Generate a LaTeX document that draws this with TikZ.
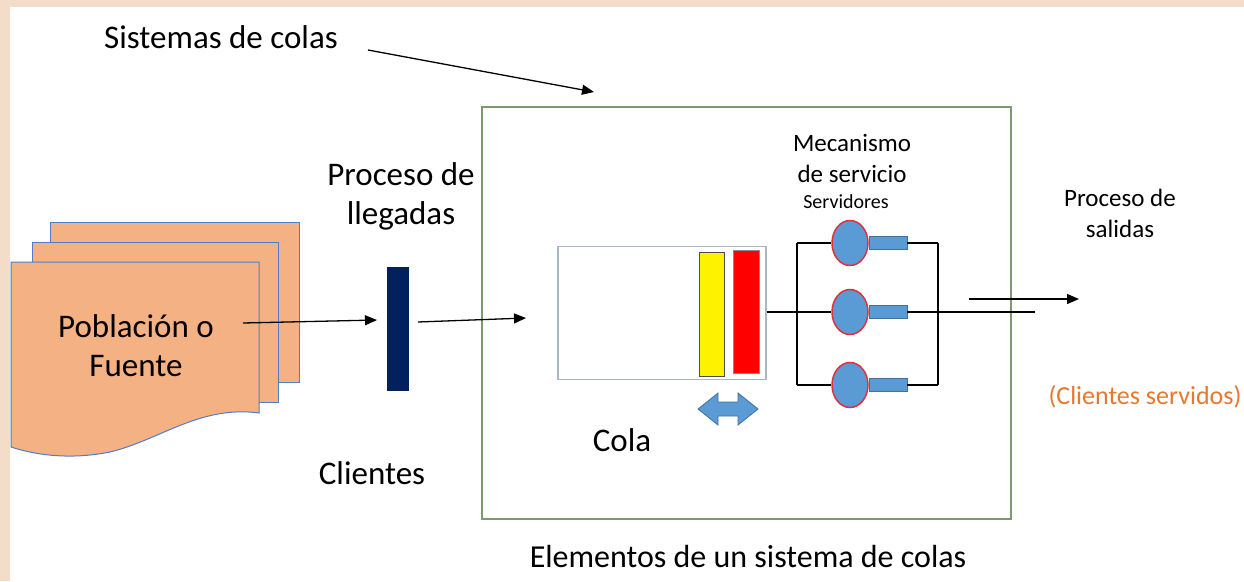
\documentclass[tikz,border=0pt]{standalone}
\usepackage{fontspec}
\setmainfont{Carlito}
\usetikzlibrary{arrows.meta,shapes.geometric}
\definecolor{peach}{HTML}{F4B183}
\definecolor{docline}{HTML}{4F7EC8}
\definecolor{bgband}{HTML}{F3DCC8}
\definecolor{navy}{HTML}{002060}
\definecolor{boxgreen}{HTML}{7C9A6C}
\definecolor{qgrey}{HTML}{A9B8C6}
\definecolor{srvblue}{HTML}{5B9BD5}
\definecolor{srvedge}{HTML}{41719C}
\definecolor{srvred}{HTML}{E0303A}
\definecolor{orangetxt}{HTML}{E8782E}
\begin{document}
\begin{tikzpicture}[x=1pt,y=-1pt,
  arr/.style={draw=black,line width=1.3pt,-{Triangle[length=12pt,width=10pt]}},
  wire/.style={draw=black,line width=1.2pt},
  big/.style={font=\fontsize{33}{39}\selectfont,align=center,inner sep=0pt},
  mid/.style={font=\fontsize{25}{31}\selectfont,align=center,inner sep=0pt},
  doc/.style={draw=docline,fill=peach,line width=1pt},
  srv/.style={ellipse,draw=srvred,fill=srvblue,line width=1.5pt,minimum width=36pt,minimum height=45pt,inner sep=0pt},
  shaft/.style={rectangle,draw=srvedge,fill=srvblue,line width=0.8pt,minimum width=38pt,minimum height=13pt,inner sep=0pt},
  bar/.style={rectangle,line width=1pt,inner sep=0pt}
]
\useasboundingbox (0,0) rectangle (1244,581);
\fill[white] (0,0) rectangle (1244,581);
\fill[bgband] (0,0) rectangle (1244,7);
\fill[bgband] (0,0) rectangle (10,581);

% documents (population)
\draw[doc] (50,222) rectangle (299,382);
\draw[doc] (32,242) rectangle (278,402);
\draw[doc] (11,262) -- (259,262) -- (259,413)
  .. controls (200,405) and (160,440) .. (110,452)
  .. controls (70,460) and (35,455) .. (11,447) -- cycle;
\node[big] (src) at (136,346) {Población o\\Fuente};

% title
\node[big] (title) at (221,37) {Sistemas de colas};
\coordinate (tstart) at (368,50);
\coordinate (tend) at (594,92);
\draw[arr] (tstart) -- (tend);

% system box
\node[rectangle,draw=boxgreen,line width=1.2pt,minimum width=529pt,minimum height=412pt,inner sep=0pt] (sys) at (746.5,313) {};

% arrivals
\node[big] (lleg) at (401,196) {Proceso de\\llegadas};
\node[bar,fill=navy,minimum width=22pt,minimum height=124pt] (gate) at (398,329) {};
\coordinate (a1s) at (243,323);
\coordinate (a1e) at (377,320);
\draw[arr] (a1s) -- (a1e);
\coordinate (a2s) at (418,322);
\coordinate (a2e) at (526,318);
\draw[arr] (a2s) -- (a2e);
\node[big] (cli) at (372,473) {Clientes};

% queue
\node[rectangle,draw=qgrey,line width=1.2pt,fill=white,minimum width=208pt,minimum height=133pt,inner sep=0pt] (queue) at (662,313) {};
\node[bar,draw=black!70,fill=yellow,minimum width=25pt,minimum height=124pt] (yel) at (712,314) {};
\node[bar,draw=black!45,fill=red,minimum width=26pt,minimum height=123pt] (redb) at (746,312) {};
\draw[draw=srvedge,fill=srvblue,line width=0.8pt]
  (698,409) -- (718,393) -- (718,402) -- (738,402) -- (738,393) -- (758,409)
  -- (738,425) -- (738,416) -- (718,416) -- (718,425) -- cycle;
\node[big] (cola) at (622,440) {Cola};

% servers
\node[mid] (mec) at (852,158) {Mecanismo\\de servicio};
\node[font=\fontsize{20}{24}\selectfont,inner sep=0pt] (servs) at (846,202) {Servidores};
\foreach \y/\n in {243/1,312/2,385/3}{
  \node[shaft] (r\n) at (888,\y) {};
  \node[srv] (s\n) at (850,\y) {};
}
\coordinate (L1) at (797,243);
\coordinate (L3) at (797,385);
\coordinate (R1) at (938,243);
\coordinate (R3) at (938,385);
\coordinate (outend) at (1035,312);
\draw[wire] (L1) -- (L3);
\draw[wire] (R1) -- (R3);
\draw[wire] (L1) -- (s1.west);
\draw[wire] (r1.east) -- (R1);
\draw[wire] (queue.east |- s2) -- (s2.west);
\draw[wire] (r2.east) -- (outend);
\draw[wire] (L3) -- (s3.west);
\draw[wire] (r3.east) -- (R3);
\coordinate (o1s) at (969,299);
\coordinate (o1e) at (1079,299);
\draw[arr] (o1s) -- (o1e);
\node[mid] (sal) at (1120,213) {Proceso de\\salidas};
\node[font=\fontsize{26}{30}\selectfont,text=orangetxt,inner sep=0pt] (served) at (1145,397) {(Clientes servidos)};

% caption
\node[font=\fontsize{32}{38}\selectfont,inner sep=0pt] (cap) at (748,556) {Elementos de un sistema de colas};
\end{tikzpicture}
\end{document}
